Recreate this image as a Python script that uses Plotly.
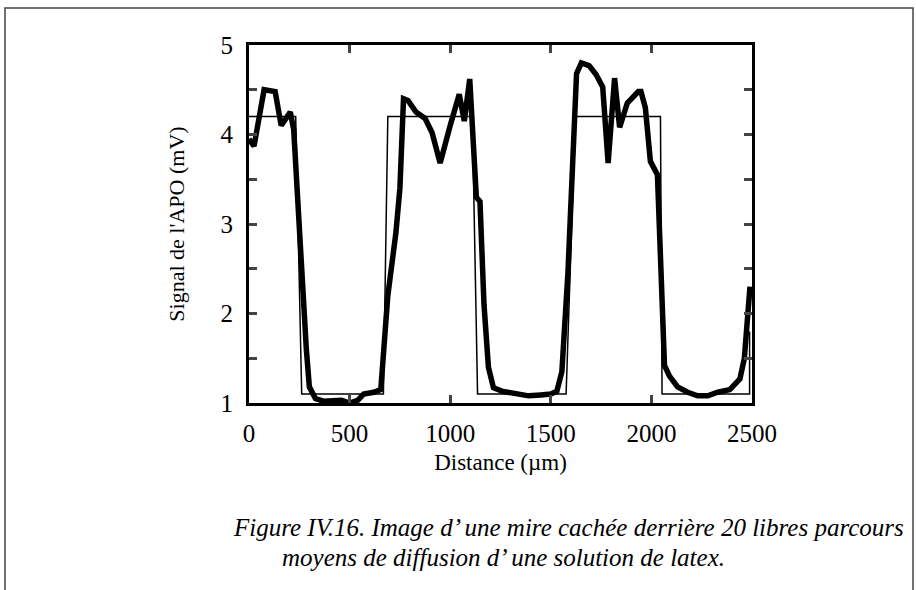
import plotly.graph_objects as go

# Measured signal (thick curve)
distance_um = [0, 25, 75, 130, 160, 190, 205, 222, 240, 260, 285, 300, 330, 370, 420, 460, 500,
               540, 570, 620, 655, 670, 690, 730, 750, 768, 790, 830, 875, 910, 950, 1000,
               1045, 1070, 1097, 1110, 1130, 1148, 1168, 1190, 1215, 1260, 1320, 1390, 1450,
               1500, 1530, 1555, 1585, 1610, 1628, 1652, 1690, 1725, 1758, 1785, 1817, 1842,
               1880, 1935, 1948, 1970, 1995, 2030, 2045, 2065, 2090, 2130, 2180, 2230, 2280,
               2330, 2390, 2440, 2462, 2490]
signal_mv = [3.95, 3.87, 4.50, 4.48, 4.10, 4.22, 4.25, 4.06, 3.30, 2.45, 1.60, 1.18, 1.05, 1.02,
             1.02, 1.03, 1.00, 1.03, 1.10, 1.12, 1.15, 1.60, 2.20, 2.90, 3.40, 4.40, 4.38,
             4.25, 4.18, 4.02, 3.68, 4.10, 4.45, 4.15, 4.62, 4.10, 3.30, 3.25, 2.10, 1.40,
             1.17, 1.13, 1.11, 1.08, 1.09, 1.10, 1.13, 1.35, 2.45, 3.75, 4.68, 4.80, 4.77,
             4.67, 4.53, 3.68, 4.63, 4.08, 4.35, 4.48, 4.48, 4.30, 3.70, 3.55, 2.50, 1.42,
             1.30, 1.18, 1.12, 1.08, 1.08, 1.12, 1.15, 1.27, 1.50, 2.30]

# Hidden target ("mire") profile (thin line)
mire_x = [0, 232, 262, 668, 690, 1110, 1136, 1576, 1622, 2045, 2053, 2488, 2488]
mire_y = [4.2, 4.2, 1.1, 1.1, 4.2, 4.2, 1.1, 1.1, 4.2, 4.2, 1.1, 1.1, 1.8]

x_ticks = [0, 500, 1000, 1500, 2000, 2500]
y_ticks = [1, 1.5, 2, 2.5, 3, 3.5, 4, 4.5, 5]
y_labels = ["1", "", "2", "", "3", "", "4", "", "5"]

FONT = "Liberation Serif, Times New Roman, serif"

fig = go.Figure()
fig.add_trace(go.Scatter(x=mire_x, y=mire_y, mode="lines",
                         line=dict(color="black", width=1.5), showlegend=False))
fig.add_trace(go.Scatter(x=distance_um, y=signal_mv, mode="lines",
                         line=dict(color="black", width=5.5), showlegend=False))

L, R, T, B = 249, 752, 45, 403
W, H = 916, 590
pw, ph = R - L, B - T

def px(x):
    return (x - L) / pw

def py(y):
    return (B - y) / ph

fig.update_layout(
    width=W, height=H,
    margin=dict(l=L, r=W - R, t=T, b=H - B),
    paper_bgcolor="white", plot_bgcolor="white",
    font=dict(family=FONT, color="black", size=24),
    xaxis=dict(range=[0, 2500], tickvals=x_ticks, ticks="inside", ticklen=8, tickwidth=2.5,
               showline=True, linewidth=3, linecolor="black", mirror="ticks",
               showgrid=False, zeroline=False, tickfont=dict(size=25, family=FONT),
               ticklabelstandoff=6,
               title=dict(text="Distance (µm)", font=dict(size=23, family=FONT), standoff=8)),
    yaxis=dict(range=[1, 5], tickvals=y_ticks, ticktext=y_labels, ticks="inside", ticklen=8,
               tickwidth=2.5, showline=True, linewidth=3, linecolor="black", mirror="ticks",
               showgrid=False, zeroline=False, tickfont=dict(size=25, family=FONT),
               ticklabelstandoff=8,
               title=dict(text="Signal de l'APO (mV)", font=dict(size=22, family=FONT), standoff=30)),
    shapes=[dict(type="rect", xref="paper", yref="paper",
                 x0=px(5), x1=px(913), y0=py(600), y1=py(8),
                 line=dict(color="#444444", width=1.5))],
    annotations=[
        dict(text="<i>Figure IV.16. Image d’ une mire cachée derrière 20 libres parcours</i>",
             xref="paper", yref="paper", x=px(568), y=py(527), xanchor="center", yanchor="middle",
             showarrow=False, font=dict(size=25, family=FONT, color="black")),
        dict(text="<i>moyens de diffusion d’ une solution de latex.</i>",
             xref="paper", yref="paper", x=px(503), y=py(557), xanchor="center", yanchor="middle",
             showarrow=False, font=dict(size=25, family=FONT, color="black")),
    ],
)

fig.write_html("out.html", config={"displayModeBar": False},
               post_script="document.body.style.margin='0';")
